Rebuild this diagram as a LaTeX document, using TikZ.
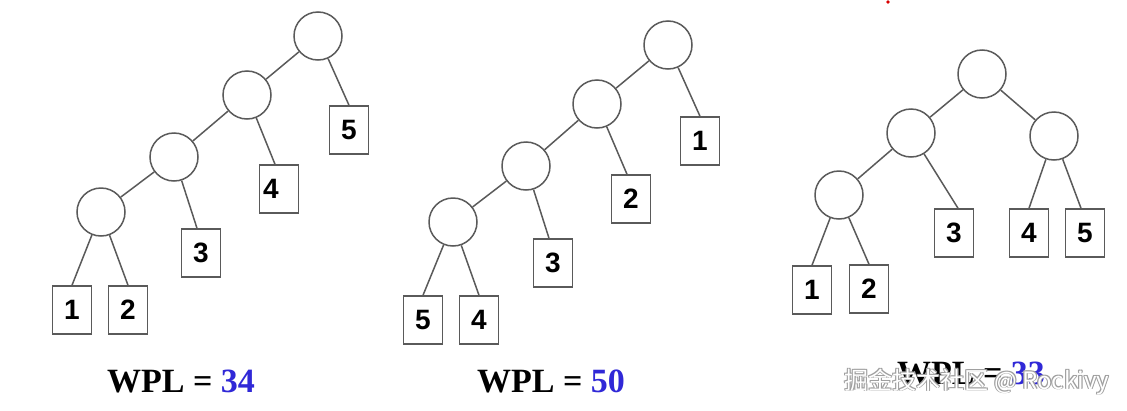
\documentclass[tikz,border=0pt]{standalone}
\usepackage{fontspec}
\setmainfont{Liberation Serif}
\newfontfamily\digitfont{Liberation Sans}
\newfontfamily\cjkfont{Noto Sans CJK SC}
\definecolor{wplblue}{RGB}{48,40,215}
\definecolor{edgegray}{RGB}{90,90,90}
\begin{document}
\begin{tikzpicture}[x=1pt,y=-1pt,
  inode/.style={circle,draw=edgegray,line width=1.5pt,minimum size=48pt,inner sep=0pt},
  leaf/.style={rectangle,draw=edgegray,line width=1.5pt,minimum width=39pt,minimum height=48pt,inner sep=0pt,
    font=\digitfont\bfseries\fontsize{28}{28}\selectfont},
  edge/.style={draw=edgegray,line width=1.5pt},
  wpl/.style={font=\bfseries\fontsize{34}{34}\selectfont,anchor=base,inner sep=0pt},
  wm/.style={font=\cjkfont\fontsize{24}{24}\selectfont,anchor=base,inner sep=0pt},
  wmshade/.style={wm,text=gray!75}]
\useasboundingbox (0,0) rectangle (1127,410);
\fill[white] (0,0) rectangle (1127,410);
% red mark
\fill[red!85!black] (888,2) circle (1.8pt);

% ---- tree 1 ----
\node[inode] (a1) at (318,36) {};
\node[inode] (a2) at (247,95) {};
\node[inode] (a3) at (174,157) {};
\node[inode] (a4) at (101,212) {};
\node[leaf] (a5) at (349,130) {5};
\node[leaf] (a6) at (279,189) {4\kern16pt};
\node[leaf] (a7) at (201,253) {3};
\node[leaf] (a8) at (72,310) {1};
\node[leaf] (a9) at (128,310) {2};
\draw[edge] (a1) -- (a2);
\draw[edge] (a2) -- (a3);
\draw[edge] (a3) -- (a4);
\draw[edge] (a1) -- (a5.north);
\draw[edge] (a2) -- ([xshift=-4pt]a6.north);
\draw[edge] (a3) -- ([xshift=-4pt]a7.north);
\draw[edge] (a4) -- (a8.north);
\draw[edge] (a4) -- (a9.north);

% ---- tree 2 ----
\node[inode] (b1) at (668,45) {};
\node[inode] (b2) at (597,104) {};
\node[inode] (b3) at (526,166) {};
\node[inode] (b4) at (453,222) {};
\node[leaf] (b5) at (700,141) {1};
\node[leaf] (b6) at (631,199) {2};
\node[leaf] (b7) at (553,263) {3};
\node[leaf] (b8) at (423,320) {5};
\node[leaf] (b9) at (479,320) {4};
\draw[edge] (b1) -- (b2);
\draw[edge] (b2) -- (b3);
\draw[edge] (b3) -- (b4);
\draw[edge] (b1) -- (b5.north);
\draw[edge] (b2) -- ([xshift=-4pt]b6.north);
\draw[edge] (b3) -- ([xshift=-4pt]b7.north);
\draw[edge] (b4) -- (b8.north);
\draw[edge] (b4) -- (b9.north);

% ---- tree 3 ----
\node[inode] (c1) at (982,74) {};
\node[inode] (c2) at (911,133) {};
\node[inode] (c3) at (1054,136) {};
\node[inode] (c4) at (839,195) {};
\node[leaf] (c5) at (954,233) {3};
\node[leaf] (c6) at (1029,233) {4};
\node[leaf] (c7) at (1085,233) {5};
\node[leaf] (c8) at (812,290) {1};
\node[leaf] (c9) at (869,289) {2};
\draw[edge] (c1) -- (c2);
\draw[edge] (c1) -- (c3);
\draw[edge] (c2) -- (c4);
\draw[edge] (c2) -- ([xshift=4pt]c5.north);
\draw[edge] (c3) -- (c6.north);
\draw[edge] (c3) -- ([xshift=-4pt]c7.north);
\draw[edge] (c4) -- (c8.north);
\draw[edge] (c4) -- (c9.north);

% ---- labels ----
\node[wpl] (w1) at (181,392) {WPL = \textcolor{wplblue}{34}};
\node[wpl] (w2) at (551,392) {WPL = \textcolor{wplblue}{50}};
\node[wpl] (w3) at (971,384) {WPL = \textcolor{wplblue}{33}};

% ---- watermark (white text with grey outline) ----
\node[wmshade] (wm1) at (978.0,389.9) {掘金技术社区 @ Rockivy};
\node[wmshade] (wm2) at (976.0,388.1) {掘金技术社区 @ Rockivy};
\node[wmshade] (wm3) at (978.0,388.1) {掘金技术社区 @ Rockivy};
\node[wmshade] (wm4) at (976.0,389.9) {掘金技术社区 @ Rockivy};
\node[wm,text=white] (wmt) at (977,389) {掘金技术社区 @ Rockivy};
\end{tikzpicture}
\end{document}
